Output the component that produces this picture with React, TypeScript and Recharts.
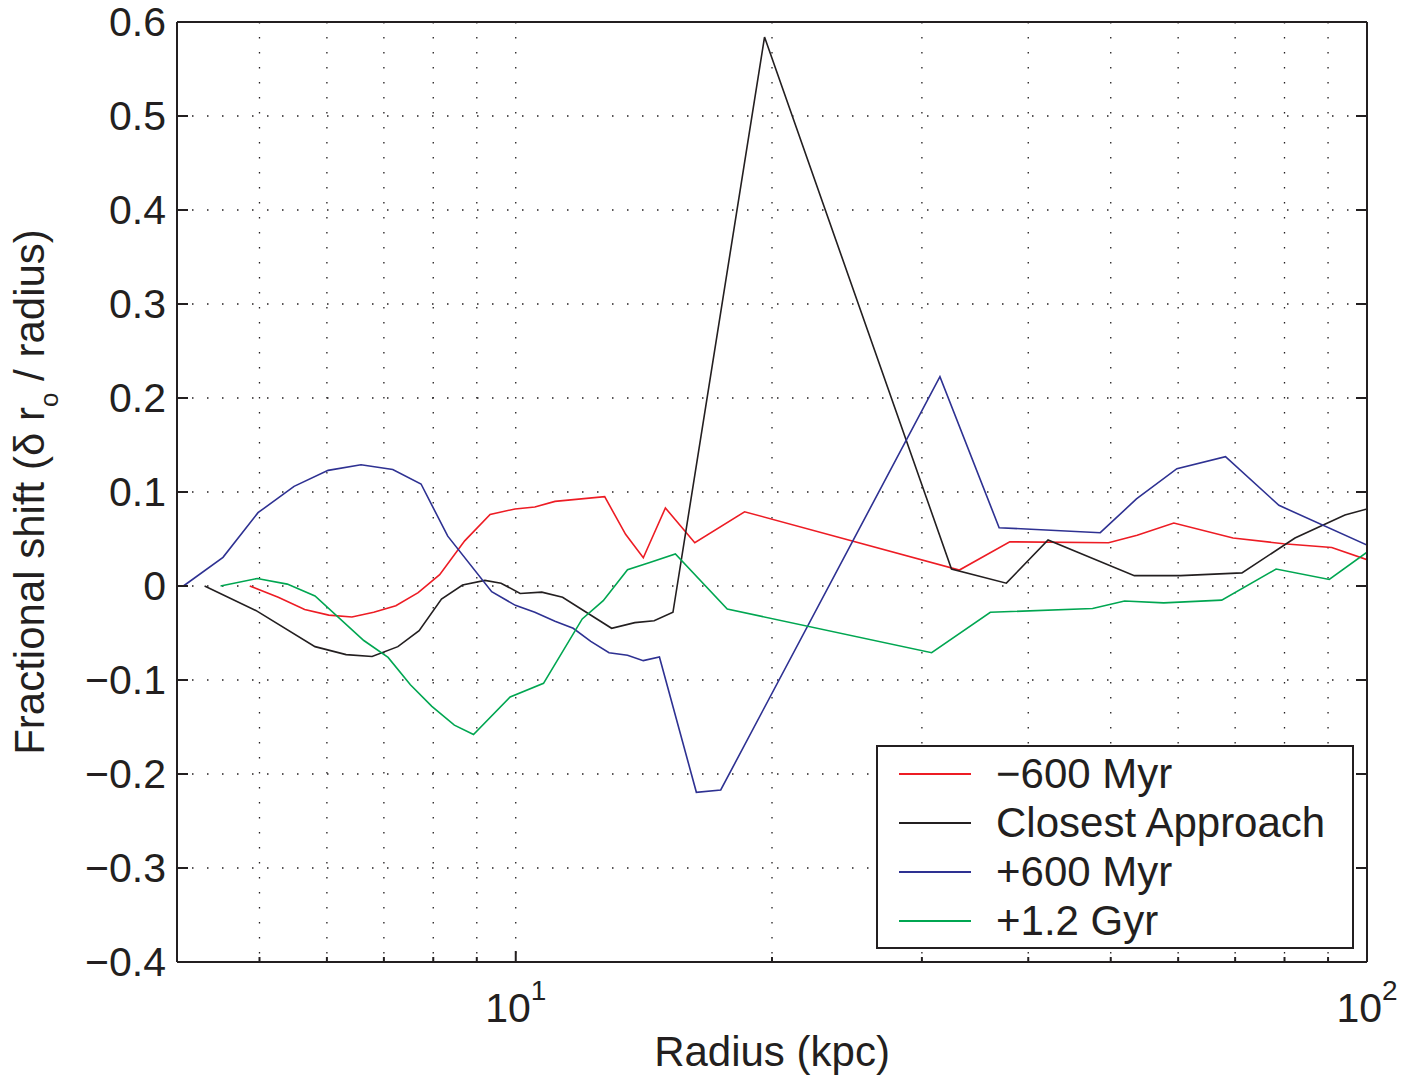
import React from 'react';
import { CartesianGrid, Label, Legend, Line, LineChart, XAxis, YAxis } from 'recharts';

interface Pt {
  r: number;
  v: number;
}

const FONT = '"Liberation Sans", Arial, Helvetica, sans-serif';
const INK = '#231f20';

// fractional shift vs radius (kpc) for each snapshot
const before600: Pt[] = [
  { r: 4.87, v: 0 }, { r: 5.26, v: -0.012 }, { r: 5.65, v: -0.025 }, { r: 6.03, v: -0.031 },
  { r: 6.42, v: -0.033 }, { r: 6.81, v: -0.028 }, { r: 7.23, v: -0.021 }, { r: 7.68, v: -0.007 },
  { r: 8.14, v: 0.012 }, { r: 8.71, v: 0.048 }, { r: 9.33, v: 0.076 }, { r: 9.98, v: 0.082 },
  { r: 10.53, v: 0.084 }, { r: 11.12, v: 0.09 }, { r: 12.72, v: 0.095 }, { r: 13.46, v: 0.055 },
  { r: 14.12, v: 0.03 }, { r: 14.99, v: 0.083 }, { r: 16.23, v: 0.046 }, { r: 18.57, v: 0.079 },
  { r: 33.2, v: 0.017 }, { r: 38.05, v: 0.047 }, { r: 49.7, v: 0.046 }, { r: 53.7, v: 0.054 },
  { r: 59.3, v: 0.067 }, { r: 69.6, v: 0.051 }, { r: 79.8, v: 0.045 }, { r: 90.9, v: 0.041 },
  { r: 100, v: 0.028 },
];

const closest: Pt[] = [
  { r: 4.31, v: 0 }, { r: 4.95, v: -0.026 }, { r: 5.81, v: -0.0645 }, { r: 6.32, v: -0.073 },
  { r: 6.78, v: -0.075 }, { r: 7.27, v: -0.0645 }, { r: 7.7, v: -0.0475 }, { r: 8.18, v: -0.014 },
  { r: 8.66, v: 0.001 }, { r: 9.2, v: 0.006 }, { r: 9.61, v: 0.003 }, { r: 10.12, v: -0.008 },
  { r: 10.73, v: -0.0065 }, { r: 11.35, v: -0.012 }, { r: 12.96, v: -0.045 }, { r: 13.8, v: -0.039 },
  { r: 14.54, v: -0.037 }, { r: 15.3, v: -0.028 }, { r: 19.6, v: 0.584 }, { r: 32.5, v: 0.018 },
  { r: 37.7, v: 0.003 }, { r: 42.2, v: 0.049 }, { r: 53.3, v: 0.011 }, { r: 60.4, v: 0.011 },
  { r: 71.3, v: 0.014 }, { r: 82.3, v: 0.051 }, { r: 94.2, v: 0.0755 }, { r: 100, v: 0.082 },
];

const after600: Pt[] = [
  { r: 4.07, v: 0 }, { r: 4.53, v: 0.0305 }, { r: 4.98, v: 0.078 }, { r: 5.49, v: 0.106 },
  { r: 6.02, v: 0.123 }, { r: 6.58, v: 0.129 }, { r: 7.17, v: 0.124 }, { r: 7.74, v: 0.1085 },
  { r: 8.32, v: 0.053 }, { r: 9.37, v: -0.006 }, { r: 9.99, v: -0.0206 }, { r: 10.53, v: -0.028 },
  { r: 11.12, v: -0.0376 }, { r: 11.68, v: -0.045 }, { r: 12.25, v: -0.059 }, { r: 12.87, v: -0.071 },
  { r: 13.53, v: -0.0737 }, { r: 14.12, v: -0.0794 }, { r: 14.75, v: -0.0755 }, { r: 16.3, v: -0.2195 },
  { r: 17.41, v: -0.217 }, { r: 31.5, v: 0.2227 }, { r: 36.97, v: 0.062 }, { r: 48.6, v: 0.0567 },
  { r: 53.6, v: 0.0926 }, { r: 59.8, v: 0.1248 }, { r: 68.2, v: 0.1376 }, { r: 78.8, v: 0.0858 },
  { r: 100, v: 0.0436 },
];

const after1200: Pt[] = [
  { r: 4.5, v: 0 }, { r: 4.97, v: 0.008 }, { r: 5.39, v: 0.002 }, { r: 5.81, v: -0.0106 },
  { r: 6.63, v: -0.058 }, { r: 7.08, v: -0.076 }, { r: 7.52, v: -0.105 }, { r: 7.97, v: -0.128 },
  { r: 8.47, v: -0.148 }, { r: 8.92, v: -0.158 }, { r: 9.85, v: -0.118 }, { r: 10.78, v: -0.1035 },
  { r: 11.97, v: -0.035 }, { r: 12.67, v: -0.0156 }, { r: 13.53, v: 0.0174 }, { r: 14.37, v: 0.025 },
  { r: 15.4, v: 0.034 }, { r: 17.72, v: -0.0245 }, { r: 30.8, v: -0.071 }, { r: 36.1, v: -0.028 },
  { r: 47.6, v: -0.024 }, { r: 51.9, v: -0.016 }, { r: 57.7, v: -0.018 }, { r: 67.5, v: -0.015 },
  { r: 78.2, v: 0.018 }, { r: 90.3, v: 0.007 }, { r: 100, v: 0.036 },
];

const seriesNames = ['\u2212600 Myr', 'Closest Approach', '+600 Myr', '+1.2 Gyr'];
const xTicks = [5, 6, 7, 8, 9, 10, 20, 30, 40, 50, 60, 70, 80, 90, 100];
const yTicks = [-0.4, -0.3, -0.2, -0.1, 0, 0.1, 0.2, 0.3, 0.4, 0.5, 0.6];
const decadeExp: Record<number, string> = { 10: '1', 100: '2' };

const fmtY = (v: number) =>
  Math.abs(v) < 1e-9 ? '0' : (v < 0 ? '\u2212' : '') + Math.abs(v).toFixed(1);

// ticks point into the box, like a MATLAB frame
const BottomTick = (props: any) => {
  const { x, y, payload } = props;
  const exp = decadeExp[payload.value];
  return (
    <g>
      <line x1={x} x2={x} y1={y} y2={y - (exp ? 11 : 5)} stroke={INK} strokeWidth={2} />
      {exp && (
        <text x={x} y={y + 60} textAnchor="middle" fontFamily={FONT} fontSize={41} fill={INK}>
          <tspan>10</tspan>
          <tspan dy={-22} fontSize={28}>{exp}</tspan>
        </text>
      )}
    </g>
  );
};

const TopTick = (props: any) => {
  const { x, y, payload } = props;
  const major = !!decadeExp[payload.value];
  return <line x1={x} x2={x} y1={y} y2={y + (major ? 11 : 5)} stroke={INK} strokeWidth={2} />;
};

const LeftTick = (props: any) => {
  const { x, y, payload } = props;
  return (
    <g>
      <line x1={x} x2={x + 11} y1={y} y2={y} stroke={INK} strokeWidth={2} />
      <text x={x - 11} y={y} dy={14} textAnchor="end" fontFamily={FONT} fontSize={41} fill={INK}>
        {fmtY(payload.value)}
      </text>
    </g>
  );
};

const RightTick = (props: any) => {
  const { x, y } = props;
  return <line x1={x} x2={x - 11} y1={y} y2={y} stroke={INK} strokeWidth={2} />;
};

const XTitle = (props: any) => {
  const { x, y, width } = props.viewBox;
  return (
    <text x={x + width / 2} y={y + 104} textAnchor="middle" fontFamily={FONT} fontSize={42} fill={INK}>
      Radius (kpc)
    </text>
  );
};

const YTitle = (props: any) => {
  const { y, height } = props.viewBox;
  const cx = 44;
  const cy = y + height / 2;
  return (
    <text
      x={cx}
      y={cy}
      transform={`rotate(-90, ${cx}, ${cy})`}
      textAnchor="middle"
      fontFamily={FONT}
      fontSize={42}
      fill={INK}
    >
      <tspan>Fractional shift (δ r</tspan>
      <tspan dy={14} fontSize={26}>o</tspan>
      <tspan dy={-14}> / radius)</tspan>
    </text>
  );
};

const LegendBox = (props: any) => {
  const items = [...(props.payload || [])].sort(
    (a: any, b: any) => seriesNames.indexOf(a.value) - seriesNames.indexOf(b.value),
  );
  return (
    <div
      style={{
        boxSizing: 'border-box',
        width: 478,
        height: 204,
        border: `2px solid ${INK}`,
        background: '#fff',
        paddingTop: 2,
        fontFamily: FONT,
        fontSize: 42,
        color: INK,
      }}
    >
      {items.map((entry: any) => (
        <div key={entry.value} style={{ display: 'flex', alignItems: 'center', height: 49, lineHeight: '49px' }}>
          <span style={{ display: 'inline-block', marginLeft: 21, width: 72, height: 2, background: entry.color }} />
          <span style={{ marginLeft: 25, whiteSpace: 'nowrap' }}>{entry.value}</span>
        </div>
      ))}
    </div>
  );
};

export default function App() {
  return (
    <div style={{ position: 'absolute', left: 0, top: 0, background: '#fff' }}>
      <LineChart
        width={1416}
        height={1077}
        margin={{ top: 0, right: 0, bottom: 0, left: 0 }}
        style={{ fontFamily: FONT }}
      >
        <CartesianGrid stroke={INK} strokeWidth={1.3} strokeDasharray="1.5 13.5" />
        <XAxis
          dataKey="r"
          type="number"
          scale="log"
          domain={[4, 100]}
          allowDataOverflow
          ticks={xTicks}
          interval={0}
          height={115}
          tickSize={0}
          tickMargin={0}
          tickLine={false}
          axisLine={{ stroke: INK, strokeWidth: 2 }}
          tick={<BottomTick />}
        >
          <Label content={<XTitle />} />
        </XAxis>
        <XAxis
          xAxisId="top"
          orientation="top"
          type="number"
          scale="log"
          domain={[4, 100]}
          allowDataOverflow
          ticks={xTicks}
          interval={0}
          height={22}
          tickSize={0}
          tickMargin={0}
          tickLine={false}
          axisLine={{ stroke: INK, strokeWidth: 2 }}
          tick={<TopTick />}
        />
        <YAxis
          type="number"
          domain={[-0.4, 0.6]}
          allowDataOverflow
          ticks={yTicks}
          interval={0}
          width={177}
          tickSize={0}
          tickMargin={0}
          tickLine={false}
          axisLine={{ stroke: INK, strokeWidth: 2 }}
          tick={<LeftTick />}
        >
          <Label content={<YTitle />} />
        </YAxis>
        <YAxis
          yAxisId="right"
          orientation="right"
          type="number"
          domain={[-0.4, 0.6]}
          allowDataOverflow
          ticks={yTicks}
          interval={0}
          width={49}
          tickSize={0}
          tickMargin={0}
          tickLine={false}
          axisLine={{ stroke: INK, strokeWidth: 2 }}
          tick={<RightTick />}
        />
        <Line data={before600} dataKey="v" name={seriesNames[0]} stroke="#ed1c24" strokeWidth={1.6} dot={false} activeDot={false} isAnimationActive={false} />
        <Line data={closest} dataKey="v" name={seriesNames[1]} stroke={INK} strokeWidth={1.6} dot={false} activeDot={false} isAnimationActive={false} />
        <Line data={after600} dataKey="v" name={seriesNames[2]} stroke="#2e3192" strokeWidth={1.6} dot={false} activeDot={false} isAnimationActive={false} />
        <Line data={after1200} dataKey="v" name={seriesNames[3]} stroke="#00a651" strokeWidth={1.6} dot={false} activeDot={false} isAnimationActive={false} />
        <Legend
          layout="horizontal"
          verticalAlign="middle"
          align="center"
          content={<LegendBox />}
          wrapperStyle={{ left: 876, top: 745, width: 478, height: 204 }}
        />
      </LineChart>
    </div>
  );
}
